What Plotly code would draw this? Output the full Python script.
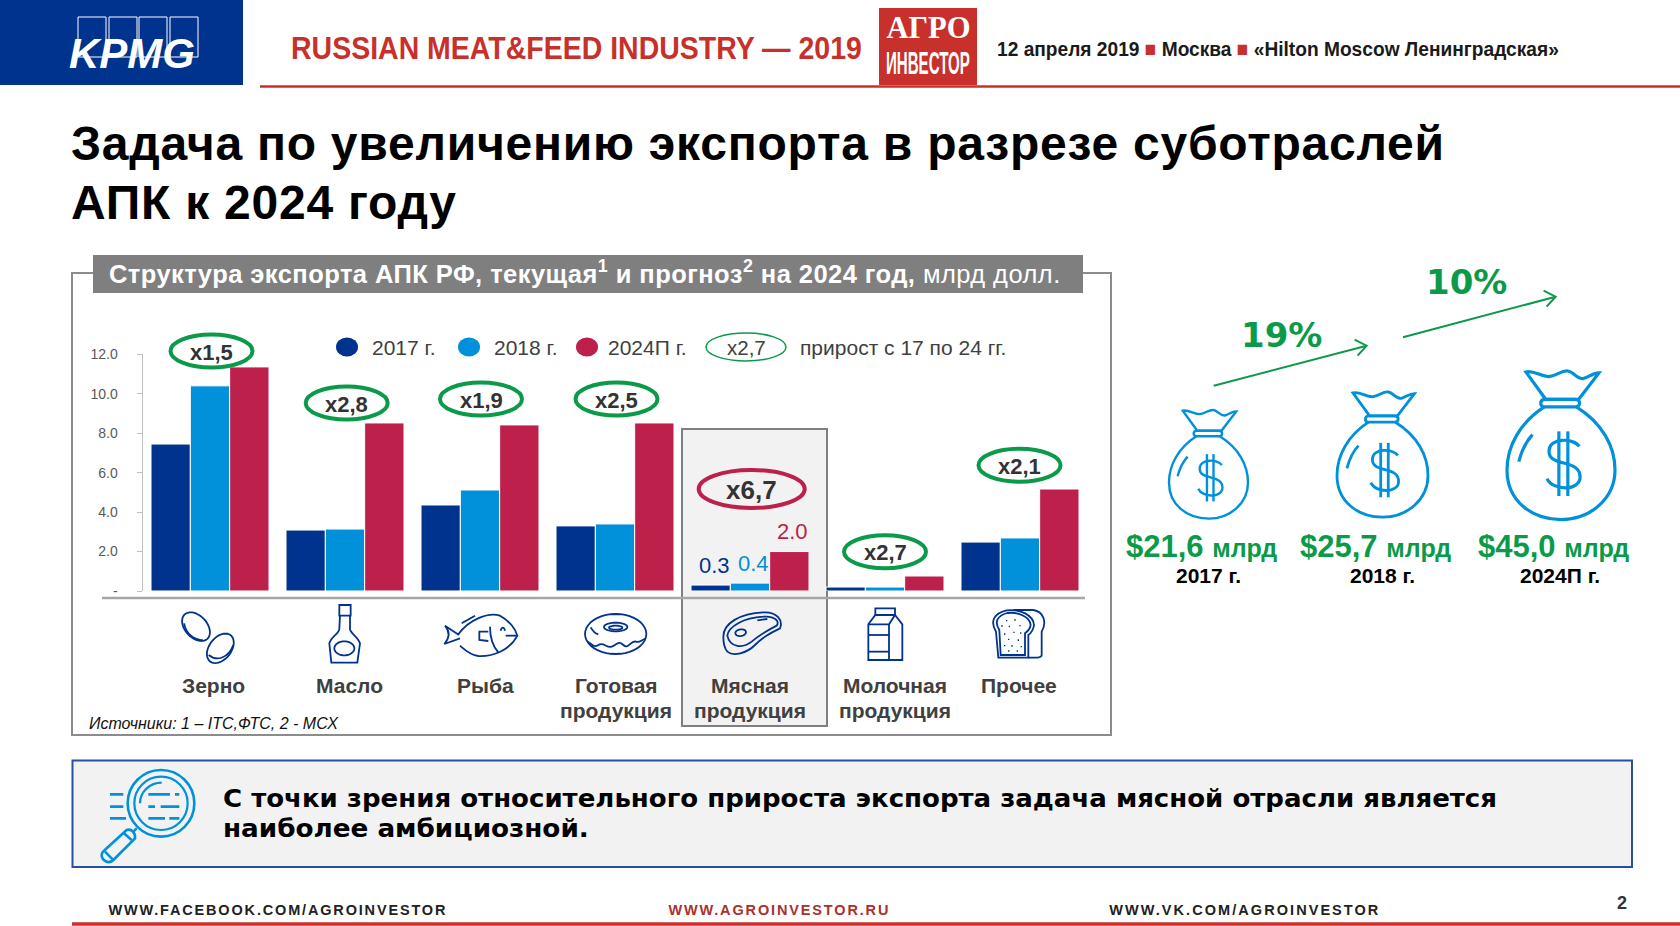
import json
import re
import numpy as np
import plotly.graph_objects as go

# ---------- data ----------
categories = ["Зерно", "Масло", "Рыба", "Готовая продукция", "Мясная продукция", "Молочная продукция", "Прочее"]
values_2017 = [7.45, 3.09, 4.36, 3.30, 0.3, 0.20, 2.48]
values_2018 = [10.4, 3.14, 5.12, 3.40, 0.4, 0.20, 2.69]
values_2024 = [11.36, 8.52, 8.42, 8.52, 2.0, 0.76, 5.17]
growth_labels = ["x1,5", "x2,8", "x1,9", "x2,5", "x6,7", "x2,7", "x2,1"]
y_ticks = [0, 2, 4, 6, 8, 10, 12]
y_tick_labels = ["-", "2.0", "4.0", "6.0", "8.0", "10.0", "12.0"]
series_names = ["2017 г.", "2018 г.", "2024П г."]
totals = ["$21,6", "$25,7", "$45,0"]
total_years = ["2017 г.", "2018 г.", "2024П г."]
cagr_labels = ["19%", "10%"]

# ---------- styles ----------
W, H = 1680, 926
NAVY, BLUE, CRIMSON = "#00338D", "#0091DA", "#BC204B"
GREEN, TXT_GREEN = "#0B9A4A", "#0B9A4A"
HDR_RED = "#C8312B"
SANS = "Liberation Sans"
WIDE = "DejaVu Sans"

# text prefix, target width in px, method: "ls" letter spacing, "sx" horizontal scale
TEXT_FITS = [
    ["Задача", 1373, "ls"], ["АПК к", 385, "ls"],
    ["RUSSIAN", 571, "sx"], ["12 апреля", 562, "sx"],
    ["АГРО", 84, "sx"], ["ИНВЕСТОР", 84, "sx"],
    ["Структура", 953, "ls"],
    ["С точки", 1275, "sx"], ["наиболее", 366, "sx"],
    ["WWW.FACEBOOK", 337, "ls"], ["WWW.AGRO", 220, "ls"], ["WWW.VK", 269, "ls"],
]

shapes, annots = [], []


def txt(x, y, text, size, color="#000", font=SANS, anchor="center", bold=False, italic=False):
    annots.append(dict(
        x=x, y=y, xref="x2", yref="y2", text=text, showarrow=False,
        xanchor=anchor, yanchor="middle", align=anchor, borderpad=0, borderwidth=0,
        font=dict(size=size, color=color, family=font,
                  weight="bold" if bold else "normal",
                  style="italic" if italic else "normal"),
    ))


def rect(x0, y0, x1, y1, fill=None, line=None, lw=0):
    shapes.append(dict(type="rect", xref="x2", yref="y2", x0=x0, y0=y0, x1=x1, y1=y1,
                       fillcolor=fill or "rgba(0,0,0,0)",
                       line=dict(color=line or "rgba(0,0,0,0)", width=lw), layer="above"))


def back_rect(x0, y0, x1, y1, fill=None, line=None, lw=0):
    # paper-referenced so that the layer lies under every subplot
    shapes.append(dict(type="rect", xref="paper", yref="paper",
                       x0=x0 / W, y0=1 - y0 / H, x1=x1 / W, y1=1 - y1 / H,
                       fillcolor=fill or "rgba(0,0,0,0)",
                       line=dict(color=line or "rgba(0,0,0,0)", width=lw), layer="below"))


def seg(x0, y0, x1, y1, color, lw):
    shapes.append(dict(type="line", xref="x2", yref="y2", x0=x0, y0=y0, x1=x1, y1=y1,
                       line=dict(color=color, width=lw), layer="above"))


def oval(cx, cy, rx, ry, fill=None, line=None, lw=0):
    shapes.append(dict(type="circle", xref="x2", yref="y2", x0=cx - rx, y0=cy - ry, x1=cx + rx, y1=cy + ry,
                       fillcolor=fill or "rgba(0,0,0,0)",
                       line=dict(color=line or "rgba(0,0,0,0)", width=lw), layer="above"))


def path(d, color, lw, fill=None):
    shapes.append(dict(type="path", xref="x2", yref="y2", path=d,
                       fillcolor=fill or "rgba(0,0,0,0)",
                       line=dict(color=color, width=lw), layer="above"))


def mapped(d, fn):
    nums = re.findall(r"[A-Za-z]|-?\d+\.?\d*", d)
    out, buf = [], []
    for tok in nums:
        if tok.isalpha():
            out.append(tok)
        else:
            buf.append(float(tok))
            if len(buf) == 2:
                px, py = fn(*buf)
                out.append(f"{px:.2f},{py:.2f}")
                buf = []
    return " ".join(out)


def icon(d, ox, oy, color=NAVY, lw=1.8, fill=None):
    path(mapped(d, lambda a, b: (ox + a / 3, oy + b / 3)), color, lw, fill)


def ell_path(cx, cy, a, b, deg):
    t = np.linspace(0, 2 * np.pi, 41)[:-1]
    r = np.radians(deg)
    xs = cx + a * np.cos(t) * np.cos(r) - b * np.sin(t) * np.sin(r)
    ys = cy + a * np.cos(t) * np.sin(r) + b * np.sin(t) * np.cos(r)
    return "M " + " L ".join(f"{x:.1f} {y:.1f}" for x, y in zip(xs, ys)) + " Z"


# ---------- header ----------
rect(0, 0, 243, 85, fill=NAVY)
for x0, x1 in [(78, 106), (109, 137), (139, 167), (170, 198)]:
    rect(x0, 17, x1, 57, line="#ffffff", lw=1)
txt(132, 53, "KPMG", 42, "#fff", bold=True, italic=True)
txt(291, 48, "RUSSIAN MEAT&FEED INDUSTRY — 2019", 31, HDR_RED, SANS, "left", bold=True)
rect(879, 8, 977, 85, fill=HDR_RED)
txt(928, 27, "АГРО", 31, "#fff", "Liberation Serif", bold=True)
txt(928, 63, "ИНВЕСТОР", 32, "#fff", SANS, bold=True)
txt(997, 48, f'12 апреля 2019 <span style="color:{HDR_RED}">■</span> Москва '
             f'<span style="color:{HDR_RED}">■</span> «Hilton Moscow Ленинградская»',
    21, "#1a1a1a", SANS, "left", bold=True)
seg(260, 86.5, 1680, 86.5, HDR_RED, 2.5)

# ---------- title ----------
txt(71, 143, "Задача по увеличению экспорта в разрезе суботраслей", 48, "#000", SANS, "left", bold=True)
txt(71, 202, "АПК к 2024 году", 48, "#000", SANS, "left", bold=True)

# ---------- panel ----------
back_rect(72, 273, 1111, 735, line="#8c8c8c", lw=2)
back_rect(682, 429, 827, 726, fill="#F2F2F2", line="#7F7F7F", lw=2)
rect(93, 255, 1083, 293, fill="#7F7F7F")
txt(109, 272, "<b>Структура экспорта АПК РФ, текущая<sup>1</sup> и прогноз<sup>2</sup> на 2024 год,</b> млрд долл.",
    25.5, "#fff", SANS, "left")
seg(102, 598, 1085, 598, "#A6A6A6", 2.5)

# legend
for cx, color, tx, name, in zip([347, 469, 587], [NAVY, BLUE, CRIMSON], [372, 494, 608], series_names):
    oval(cx, 347, 11, 9.5, fill=color)
    txt(tx, 347, name, 21, "#404040", SANS, "left")
oval(746, 347, 40, 14, fill="#fff", line=GREEN, lw=1.5)
txt(746, 347, "x2,7", 20.5, "#404040")
txt(800, 347, "прирост с 17 по 24 гг.", 21, "#404040", SANS, "left")

# growth ovals
oval_cx = [211.5, 346.7, 481, 616.5, 751.7, 885, 1019.5]
oval_cy = [351, 403, 399, 399, 489, 551.7, 465.3]
for i, (cx, cy, lab) in enumerate(zip(oval_cx, oval_cy, growth_labels)):
    meat = i == 4
    oval(cx, cy, 53 if meat else 41, 19 if meat else 16.5,
         fill="#F2F2F2" if meat else "#fff", line=CRIMSON if meat else GREEN, lw=4)
    txt(cx, cy + 1, lab, 26 if meat else 22, "#333", bold=True)

# category labels
cat_lines = [["Зерно"], ["Масло"], ["Рыба"], ["Готовая", "продукция"], ["Мясная", "продукция"],
             ["Молочная", "продукция"], ["Прочее"]]
cat_x = [213, 349, 485, 616, 750, 895, 1019]
for x, lines in zip(cat_x, cat_lines):
    for j, s in enumerate(lines):
        txt(x, 685 + 25 * j, s, 21, "#404040", bold=True)
txt(89, 723, "Источники: 1 – ITC,ФТС, 2 - МСХ", 16, "#111", SANS, "left", italic=True)

# value labels of the highlighted category, anchored to the data
MEAT = 4
for vals, color, dx in zip([values_2017, values_2018, values_2024], [NAVY, BLUE, CRIMSON], [-36, 3, 42]):
    annots.append(dict(x=categories[MEAT], y=vals[MEAT], xref="x", yref="y", text=f"{vals[MEAT]:.1f}",
                       showarrow=False, xshift=dx, yshift=20, yanchor="middle", borderpad=0,
                       font=dict(size=22, color=color, family=SANS)))

# ---------- icons ----------
O5 = (160, 595)
O6 = (640, 595)
# grain
icon(ell_path(108, 95, 50, 33, 47), *O5)
icon("M72 85 C78 115 100 135 130 136", *O5)
icon(ell_path(181, 160, 50, 33, -52), *O5)
icon("M146 180 C170 200 205 190 220 150", *O5)
# bottle
icon("M538 30 L572 30 L572 62 L538 62 Z", *O5)
icon("M540 62 L538 100 C540 115 515 122 508 145 L514 203 L592 203 L600 145 C592 122 566 112 570 100 L570 62", *O5)
icon(ell_path(553, 160, 30, 21, 0), *O5)
# fish
icon("M895 118 C925 75 985 50 1020 62 C1050 78 1068 105 1072 122 C1050 165 1000 185 955 183 "
     "C930 180 915 165 900 152", *O5)
icon("M897 120 L855 92 C870 110 868 130 853 147 L900 130", *O5)
icon("M905 85 L945 62", *O5)
icon("M990 95 C990 125 1000 155 1015 172", *O5)
icon("M985 110 L958 110 L958 135 L985 138", *O5)
icon("M1037 122 L1072 122", *O5)
icon("M1022 107 C1025 95 1032 95 1035 107", *O5)
# donut
icon(ell_path(1367, 117, 92, 60, 0), *O5)
icon(ell_path(1367, 96, 35, 13, 0), *O5)
icon(ell_path(1367, 98, 20, 6, 0), *O5)
icon("M1282 140 C1295 145 1300 160 1315 150 C1330 140 1340 160 1355 155 C1370 150 1375 135 1390 150 "
     "C1405 165 1412 135 1428 140 C1440 145 1448 130 1458 132", *O5)
icon("M1292 97 C1298 108 1305 115 1315 118", *O5)
# meat
icon("M250 125 C250 85 300 55 370 52 C410 50 430 75 420 100 C390 115 370 125 345 150 "
     "C320 175 280 185 262 170 C252 158 250 140 250 125 Z", *O6)
icon("M262 122 C265 95 310 68 370 65 C405 62 420 80 410 92 C385 105 360 118 335 140 "
     "C310 160 270 160 262 122 Z", *O6)
icon(ell_path(302, 113, 16, 10, -8), *O6)
icon("M352 76 L382 72", *O6)
# milk
icon("M706 60 L706 40 L765 40 L765 60", *O6)
icon("M685 88 L706 60 L765 60 L787 88 L787 195 L685 195 Z", *O6)
icon("M685 88 L747 88 L765 60", *O6)
icon("M747 88 L747 195", *O6)
icon("M685 120 L747 120", *O6)
icon("M685 170 L747 170", *O6)
# bread
icon("M1120 45 L1180 45 C1210 50 1222 80 1205 110 L1205 180 C1205 188 1195 188 1165 188", *O6)
icon("M1075 188 L1068 110 C1050 80 1060 55 1100 46 C1140 42 1180 60 1182 90 C1180 105 1172 115 1165 120 L1165 188 Z", *O6)
icon("M1082 180 L1078 105 C1062 80 1072 62 1102 54 C1135 50 1170 66 1172 90 C1170 102 1162 110 1155 115 L1155 180 Z", *O6)
icon("M1086 90 L1086 95 M1108 92 L1108 97 M1125 72 L1125 77 M1138 92 L1142 92 M1100 75 L1100 79 "
     "M1094 115 L1094 120 M1120 112 L1124 112 M1140 114 L1144 114 M1104 133 L1108 133 M1135 133 L1135 138 "
     "M1092 152 L1096 152 M1116 150 L1116 155 M1142 155 L1146 155 M1104 168 L1108 168 M1130 168 L1134 168", *O6, lw=1.3)

# ---------- money bags ----------
BAG = ["M183 482 C200 478 215 492 232 492 C250 490 258 478 272 480 C285 482 292 498 305 496 "
       "C318 492 325 484 338 484 L295 540 L225 540 Z",
       "M222 540 C212 541 212 556 222 556 L288 556 C300 556 300 540 288 540 Z",
       "M222 556 C170 590 143 640 143 690 C143 755 195 795 258 795 C320 795 372 750 372 690 "
       "C372 640 345 590 290 556",
       "M168 672 C175 645 185 628 197 615",
       "M296 640 C285 622 232 620 232 650 C232 685 298 665 298 705 C298 735 240 735 228 708",
       "M253 608 L253 745", "M272 608 L272 745"]
for ox, oy, w, lw in [(1169, 410, 79, 2.4), (1337, 392, 91, 2.8), (1507, 371, 108, 3.2)]:
    s = w / 229
    for d in BAG:
        path(mapped(d, lambda a, b: (ox + (a - 143) * s, oy + (b - 480) * s)), BLUE, lw)

# arrows
for x0, y0, x1, y1 in [(1213.7, 385.7, 1366.6, 345.7), (1403, 337.3, 1555.6, 296.7)]:
    seg(x0, y0, x1, y1, GREEN, 2)
    path(f"M {x1 - 12:.1f} {y1 - 6:.1f} L {x1:.1f} {y1:.1f} L {x1 - 9:.1f} {y1 + 10:.1f}", GREEN, 2)
txt(1281, 335, cagr_labels[0], 34, TXT_GREEN, WIDE, bold=True)
txt(1466, 282, cagr_labels[1], 34, TXT_GREEN, WIDE, bold=True)
for cx, total, ycx, yr in zip([1201, 1375, 1553], totals, [1208, 1382, 1560], total_years):
    txt(cx, 546, f'{total} <span style="font-size:25px">млрд</span>', 31, TXT_GREEN, SANS, bold=True)
    txt(ycx, 575, yr, 21, "#000", bold=True)

# ---------- conclusion ----------
rect(72.5, 760.5, 1632, 867, fill="#F2F2F2", line="#2A4F9E", lw=2)
O9 = (70, 760)
for d in ["M120 103 L160 103 M235 103 L300 103 M315 103 L328 103",
          "M120 140 L160 140 M235 140 L255 140 M272 140 L328 140",
          "M120 175 L168 175 M235 175 L285 175 M298 175 L328 175",
          "M200 205 L190 215",
          "M170 210 C185 205 197 220 195 235 L130 300 C115 315 95 300 95 285 C95 280 98 275 102 272 Z",
          "M160 218 L185 240", "M105 275 L128 298"]:
    icon(d, *O9, color=BLUE, lw=2.6)
oval(70 + 273 / 3, 760 + 130 / 3, 100 / 3, 100 / 3, line=BLUE, lw=2.6)
oval(70 + 273 / 3, 760 + 130 / 3, 80 / 3, 80 / 3, line=BLUE, lw=2.2)
icon("M210 130 C210 95 240 68 275 68", *O9, color=BLUE, lw=2.2)
txt(223, 799, "С точки зрения относительного прироста экспорта задача мясной отрасли является",
    24, "#000", WIDE, "left", bold=True)
txt(223, 829, "наиболее амбициозной.", 24, "#000", WIDE, "left", bold=True)

# ---------- footer ----------
txt(278, 910, "WWW.FACEBOOK.COM/AGROINVESTOR", 14.5, "#222", SANS, bold=True)
txt(779, 910, "WWW.AGROINVESTOR.RU", 14.5, "#A8322D", SANS, bold=True)
txt(1245, 910, "WWW.VK.COM/AGROINVESTOR", 14.5, "#222", SANS, bold=True)
txt(1622, 903, "2", 18, "#333", bold=True)
seg(72, 924, 1680, 924, HDR_RED, 3.5)

# ---------- figure ----------
fig = go.Figure()
for vals, name, color in zip([values_2017, values_2018, values_2024], series_names, [NAVY, BLUE, CRIMSON]):
    fig.add_bar(x=categories, y=vals, name=name,
                marker=dict(color=color, line=dict(color="#ffffff", width=1)), hoverinfo="skip")
fig.add_scatter(x=[0, W], y=[0, H], xaxis="x2", yaxis="y2", mode="none", showlegend=False, hoverinfo="skip")

fig.update_layout(
    width=W, height=H, margin=dict(l=0, r=0, t=0, b=0, autoexpand=False),
    paper_bgcolor="#fff", plot_bgcolor="rgba(0,0,0,0)", showlegend=False,
    barmode="group", bargap=0.126, bargroupgap=0,
    font=dict(family=SANS),
    xaxis=dict(domain=[142.5 / W, 1087.5 / W], visible=False, type="category", automargin=False,
               categoryorder="array", categoryarray=categories),
    yaxis=dict(domain=[1 - 591 / H, 1 - 354.3 / H], range=[0, 12], showgrid=False, zeroline=False,
               automargin=False,
               tickmode="array", tickvals=y_ticks, ticktext=y_tick_labels, ticks="outside", ticklen=5,
               tickcolor="#BFBFBF", ticklabelstandoff=16, showline=True, linecolor="#BFBFBF", linewidth=1,
               tickfont=dict(size=14, color="#595959", family=SANS)),
    xaxis2=dict(domain=[0, 1], range=[0, W], visible=False, anchor="y2", fixedrange=True, automargin=False),
    yaxis2=dict(domain=[0, 1], range=[H, 0], visible=False, anchor="x2", fixedrange=True, automargin=False),
    shapes=shapes, annotations=annots,
)

post = """
document.documentElement.style.overflow='hidden';
document.body.style.margin='0';document.body.style.overflow='hidden';
var fits = %s;
document.querySelectorAll('.annotation-text').forEach(function(t){
  var c = t.textContent;
  fits.forEach(function(f){
    if(c.indexOf(f[0])!==0) return;
    var L = t.getComputedTextLength();
    if(f[2]==='ls'){ t.style.letterSpacing = ((f[1]-L)/(c.length-1))+'px'; }
    else { var s=f[1]/L, x=parseFloat(t.getAttribute('x')||0);
      t.setAttribute('transform','translate('+(x*(1-s))+',0) scale('+s+',1)'); }
  });
});
""" % json.dumps(TEXT_FITS, ensure_ascii=False)
fig.write_html("out.html", post_script=post, config=dict(displayModeBar=False))
